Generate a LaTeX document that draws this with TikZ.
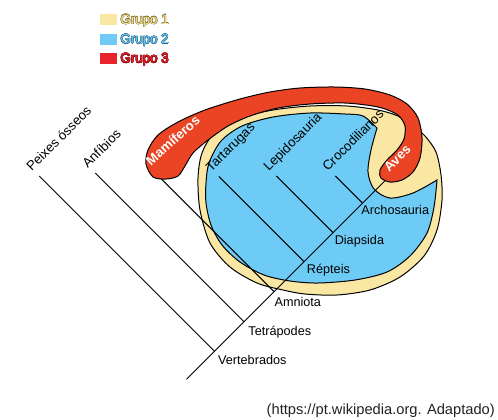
\documentclass[tikz,border=0pt]{standalone}
\usepackage{fontspec}
\setmainfont{Liberation Sans}
\usepackage{contour}
\contourlength{0.3pt}
\definecolor{gyellow}{HTML}{FBE7A4}
\definecolor{gblue}{HTML}{6DCBF5}
\definecolor{gred}{HTML}{EA4424}
\definecolor{lred}{HTML}{E8232B}
\definecolor{gyellowdark}{HTML}{8A7A3C}
\definecolor{gbluedark}{HTML}{2D6C90}
\definecolor{greddark}{HTML}{8E1418}
\definecolor{srcgray}{HTML}{222222}
\begin{document}
\begin{tikzpicture}[x=0.75pt,y=-0.75pt,
  branch/.style={black, line width=0.75pt},
  blob/.style={draw=black, line width=0.75pt},
  tiplbl/.style={rotate=45, anchor=base west, inner sep=0pt, font=\fontsize{9.9}{11}\selectfont},
  nodelbl/.style={anchor=base west, inner sep=0pt, font=\fontsize{9.5}{11}\selectfont},
  bandlbl/.style={anchor=base, inner sep=0pt, text=white, font=\fontsize{10}{12}\selectfont\bfseries},
  legsq/.style={minimum width=12.75pt, minimum height=8.5pt, inner sep=0pt},
  legtxt/.style={anchor=base west, inner sep=0pt, font=\fontsize{10}{12}\selectfont}]
\useasboundingbox (0,0) rectangle (498,419);

% Grupo 1 (yellow)
\path[blob, fill=gyellow] plot[smooth cycle] coordinates {
 (198,178) (202,153) (215,132) (240,118) (273,110) (310,106) (347,106)
 (378,110) (398,116) (412,125) (425,136) (436,152) (441,175) (442,200)
 (437,230) (424,256) (400,277) (370,290) (337,295) (305,294) (283,290)
 (257,283) (230,267) (210,243) (200,210)};

% Grupo 2 (blue)
\path[blob, fill=gblue] plot[smooth] coordinates {
 (377,128) (371,150) (368,172) (374,189) (390,198) (413,193) (437,180)}
 -- plot[smooth] coordinates {
 (437,180) (434,207) (427,233) (410,256) (387,272) (355,280) (318,283)
 (290,281) (264,275) (240,262) (222,245) (211,225) (206,203) (206,183)
 (209,163) (221,141) (242,126) (273,117) (310,113) (345,114) (363,116) (377,128)}
 -- cycle;

% tree
\coordinate (root)  at (186.5,379.2);
\coordinate (vert)  at (214.5,351.2);
\coordinate (tetra) at (244,321.7);
\coordinate (amnio) at (274,291.7);
\coordinate (rept)  at (304,261.7);
\coordinate (diap)  at (333,232.7);
\coordinate (arch)  at (362.5,203.2);
\coordinate (aves)  at (389.5,176.2);
\coordinate (peixes) at (39.3,176);
\coordinate (anfib)  at (95.3,173);
\coordinate (mamif)  at (154.3,172);
\coordinate (tart)   at (218.8,176.5);
\coordinate (lepid)  at (276.3,176);
\coordinate (croc)   at (335.3,176);

\draw[branch] (root) -- (aves);
\draw[branch] (vert) -- (peixes);
\draw[branch] (tetra) -- (anfib);
\draw[branch] (amnio) -- (mamif);
\draw[branch] (rept) -- (tart);
\draw[branch] (diap) -- (lepid);
\draw[branch] (arch) -- (croc);

% Grupo 3 (red)
\path[blob, fill=gred] plot[smooth cycle] coordinates {
 (146,164) (148,150) (158,135) (178,122) (205,110) (240,99) (270,92)
 (300,88) (335,87) (365,89) (390,95) (407,104) (418,118) (422,138)
 (420,158) (413,172) (402,180) (390,182) (381,178) (380,170)
 (387,160) (397,150) (404,139) (405,126) (399,116) (388,110) (373,106)
 (345,103) (310,104) (278,108) (250,116) (228,126) (208,140) (193,153)
 (185,166) (178,176) (166,179) (153,177)};

% labels
\node[tiplbl] (peixesL) at ([shift={(-7.5,-4)}]peixes) {Peixes ósseos};
\node[tiplbl] (anfibL)  at ([shift={(-7.5,-4)}]anfib)  {Anfíbios};
\node[tiplbl] (tartL)   at ([shift={(-7.5,-4)}]tart)   {Tartarugas};
\node[tiplbl] (lepidL)  at ([shift={(-7.5,-4)}]lepid)  {Lepidosauria};
\node[tiplbl] (crocL)   at ([shift={(-7.5,-4)}]croc)   {Crocodilianos};

\node[bandlbl, rotate=42] (mamL) at (176,144) {Mamíferos};
\node[bandlbl, rotate=45] (avesL) at (400.5,161.5) {Aves};

\node[nodelbl] (vertL)  at ([shift={(3.4,13.6)}]vert)  {Vertebrados};
\node[nodelbl] (tetraL) at ([shift={(4.2,13.4)}]tetra) {Tetrápodes};
\node[nodelbl] (amnioL) at ([shift={(0.3,14.6)}]amnio) {Amniota};
\node[nodelbl] (reptL)  at ([shift={(2.7,11.8)}]rept)  {Répteis};
\node[nodelbl] (diapL)  at ([shift={(1.5,11.5)}]diap)  {Diapsida};
\node[nodelbl] (archL)  at ([shift={(-1.3,11.5)}]arch) {Archosauria};

% legend
\node[legsq, fill=gyellow] (sq1) at (108,19.5) {};
\node[legsq, fill=gblue]   (sq2) at (108,39.5) {};
\node[legsq, fill=lred]    (sq3) at (108,58.8) {};
\node[legtxt] (lg1) at (120.3,24.2) {\contour{gyellowdark}{\textcolor{gyellow}{Grupo 1}}};
\node[legtxt] (lg2) at (120.3,43.6) {\contour{gbluedark}{\textcolor{gblue}{Grupo 2}}};
\node[legtxt] (lg3) at (120.3,62.8) {\contour{greddark}{\textcolor{lred}{Grupo 3}}};

% source
\node[anchor=base east, inner sep=0pt, text=srcgray, font=\fontsize{11}{13}\selectfont] (src) at (495,414) {(https://pt.wikipedia.org. Adaptado)};
\end{tikzpicture}
\end{document}
